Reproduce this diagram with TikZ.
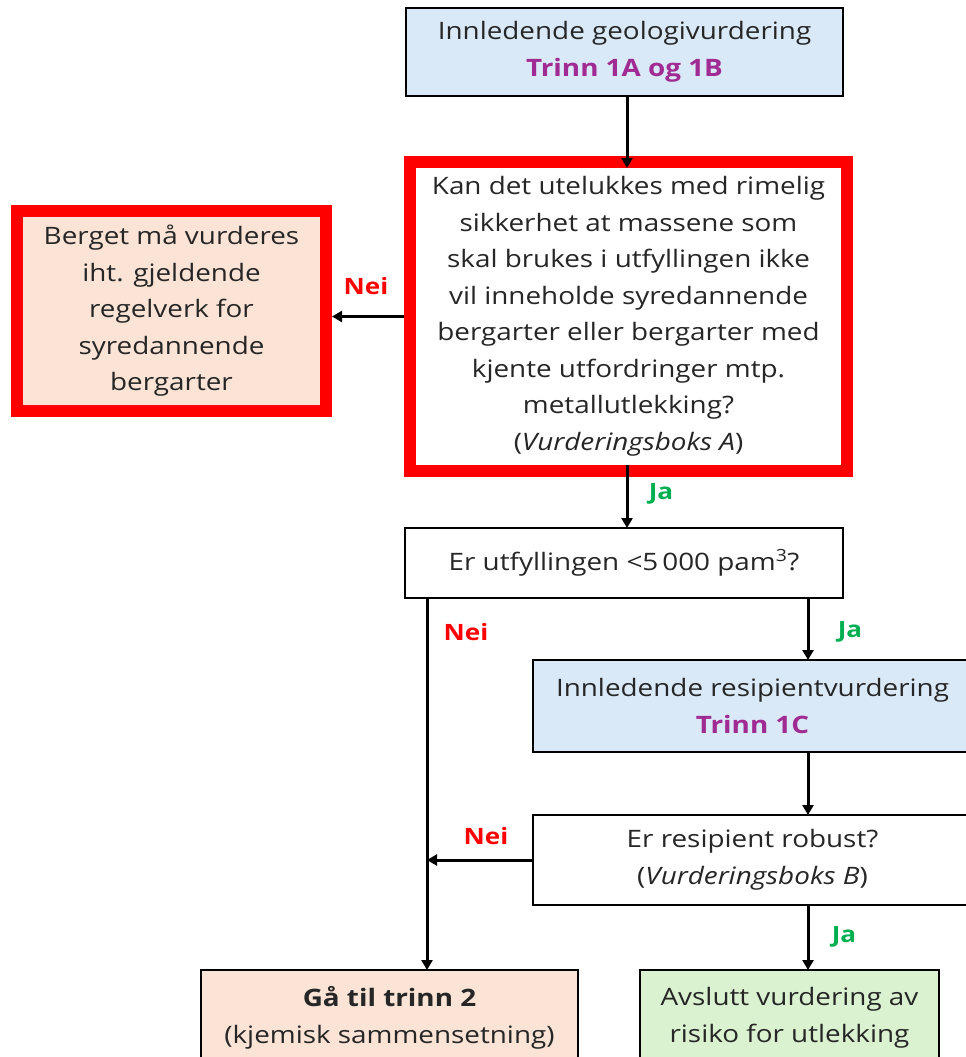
\documentclass[tikz,border=0pt]{standalone}
\usepackage{fontspec}
\setmainfont{Open Sans}[FakeStretch=1.16]
\usetikzlibrary{arrows.meta}
\definecolor{bluefill}{HTML}{DAE9F8}
\definecolor{peach}{HTML}{FBE3D6}
\definecolor{greenfill}{HTML}{DAF2D0}
\definecolor{trinn}{HTML}{A02B93}
\definecolor{jagreen}{HTML}{00B050}
\definecolor{neired}{HTML}{FF0000}
\definecolor{txt}{HTML}{262626}
\tikzset{
  box/.style={draw=black, line width=2.4pt, inner sep=0pt, outer sep=0pt, align=center, text=txt,
    font=\fontsize{24}{36.5}\selectfont},
  redbox/.style={box, draw=neired, line width=12pt},
  arr/.style={line width=3pt, -{Triangle[length=10pt,width=11pt]}},
  lbl/.style={font=\bfseries\fontsize{22.5}{24}\selectfont},
  nei/.style={lbl, text=neired},
  ja/.style={lbl, text=jagreen},
}
\begin{document}
\begin{tikzpicture}[x=1pt,y=-1pt]
\useasboundingbox (0,0) rectangle (966,1057);
% boxes
\node[box, fill=bluefill, minimum width=437pt, minimum height=88pt] (top) at (624.5,52)
  {Innledende geologivurdering\\ {\bfseries\color{trinn}Trinn 1A og 1B}};
\node[redbox, fill=white, minimum width=437pt, minimum height=309pt] (A) at (628.5,316.5)
  {Kan det utelukkes med rimelig\\ sikkerhet at massene som\\ skal brukes i utfyllingen ikke\\ vil inneholde syredannende\\ bergarter eller bergarter med\\ kjente utfordringer mtp.\\ metallutlekking?\\ (\textit{Vurderingsboks A})};
\node[redbox, fill=peach, minimum width=309pt, minimum height=200pt] (berg) at (171.5,311)
  {Berget må vurderes\\ iht. gjeldende\\ regelverk for\\ syredannende\\ bergarter};
\node[box, fill=white, minimum width=438pt, minimum height=70pt] (q1) at (624,563)
  {Er utfyllingen <5\,000 pam\textsuperscript{3}?};
\node[box, fill=bluefill, minimum width=439pt, minimum height=92pt] (res) at (752.5,706)
  {Innledende resipientvurdering\\ {\bfseries\color{trinn}Trinn 1C}};
\node[box, fill=white, minimum width=439pt, minimum height=90pt] (rob) at (752.5,860)
  {Er resipient robust?\\ (\textit{Vurderingsboks B})};
\node[box, fill=peach, minimum width=377pt, minimum height=96pt, anchor=north] (gaa) at (389.5,970)
  {{\bfseries Gå til trinn 2}\\ (kjemisk sammensetning)};
\node[box, fill=greenfill, minimum width=299pt, minimum height=96pt, anchor=north] (avs) at (789.5,970)
  {Avslutt vurdering av\\ risiko for utlekking};
% helper coordinates
\coordinate (cA) at (627,0);
\coordinate (cL) at (427,0);
\coordinate (cR) at (808,0);
% connectors
\draw[arr] (top.south -| cA) -- ([yshift=-6pt]A.north -| cA);
\draw[arr] ([xshift=-6pt]A.west) -- ([xshift=6pt]A.west -| berg.east);
\draw[arr] ([yshift=6pt]A.south -| cA) -- (q1.north -| cA);
\draw[arr] (q1.south -| cL) -- (gaa.north -| cL);
\draw[arr] (q1.south -| cR) -- (res.north -| cR);
\draw[arr] (res.south -| cR) -- (rob.north -| cR);
\draw[arr] (rob.west) -- (rob.west -| cL);
\draw[arr] (rob.south -| cR) -- (avs.north -| cR);
% labels
\node[nei] (l1) at (366,286) {Nei};
\node[ja] (l2) at (661,494) {Ja};
\node[nei] (l3) at (466,632) {Nei};
\node[ja] (l4) at (850,632) {Ja};
\node[nei] (l5) at (486,836) {Nei};
\node[ja] (l6) at (844,937) {Ja};
\end{tikzpicture}
\end{document}
